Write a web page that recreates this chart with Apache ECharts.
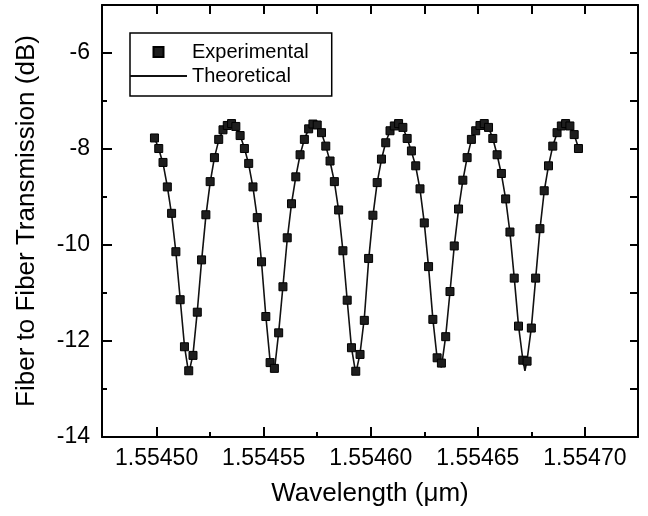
<!DOCTYPE html>
<html>
<head>
<meta charset="utf-8">
<script src="https://cdn.jsdelivr.net/npm/echarts@6/dist/echarts.min.js"></script>
<style>html,body{margin:0;padding:0;background:#fff}#c{width:648px;height:516px}</style>
</head>
<body>
<div id="c"></div>
<script>
// Experimental wavelengths (µm)
var expWavelength = [
1.554499,1.554501,1.554503,1.554505,1.554507,1.554509,1.554511,1.554513,1.554515,1.554517,
1.554519,1.554521,1.554523,1.554525,1.554527,1.554529,1.554531,1.554533,1.554535,1.554537,
1.554539,1.554541,1.554543,1.554545,1.554547,1.554549,1.554551,1.554553,1.554555,1.554557,
1.554559,1.554561,1.554563,1.554565,1.554567,1.554569,1.554571,1.554573,1.554575,1.554577,
1.554579,1.554581,1.554583,1.554585,1.554587,1.554589,1.554591,1.554593,1.554595,1.554597,
1.554599,1.554601,1.554603,1.554605,1.554607,1.554609,1.554611,1.554613,1.554615,1.554617,
1.554619,1.554621,1.554623,1.554625,1.554627,1.554629,1.554631,1.554633,1.554635,1.554637,
1.554639,1.554641,1.554643,1.554645,1.554647,1.554649,1.554651,1.554653,1.554655,1.554657,
1.554659,1.554661,1.554663,1.554665,1.554667,1.554669,1.554671,1.554673,1.554675,1.554677,
1.554679,1.554681,1.554683,1.554685,1.554687,1.554689,1.554691,1.554693,1.554695,1.554697
];
// Experimental transmission (dB)
var expTransmission = [
-7.77,-7.99,-8.28,-8.79,-9.34,-10.14,-11.14,-12.12,-12.62,-12.30,
-11.40,-10.31,-9.37,-8.68,-8.18,-7.80,-7.60,-7.51,-7.47,-7.53,
-7.72,-7.99,-8.30,-8.79,-9.43,-10.35,-11.49,-12.45,-12.57,-11.83,
-10.87,-9.85,-9.14,-8.58,-8.12,-7.80,-7.58,-7.48,-7.50,-7.66,
-7.94,-8.25,-8.68,-9.27,-10.12,-11.15,-12.14,-12.63,-12.28,-11.57,
-10.28,-9.38,-8.70,-8.21,-7.87,-7.62,-7.52,-7.47,-7.55,-7.78,
-8.04,-8.35,-8.83,-9.54,-10.45,-11.55,-12.35,-12.46,-11.91,-10.97,
-10.02,-9.25,-8.65,-8.18,-7.80,-7.62,-7.51,-7.47,-7.55,-7.78,
-8.12,-8.51,-9.04,-9.73,-10.69,-11.69,-12.40,-12.42,-11.73,-10.69,
-9.66,-8.87,-8.35,-7.94,-7.66,-7.52,-7.47,-7.52,-7.70,-7.99
];
// Theoretical curve wavelengths (µm)
var theoWavelength = [
1.554499,1.554501,1.554503,1.554505,1.554507,1.554509,1.554511,1.554513,1.554515,1.554517,
1.554519,1.554521,1.554523,1.554525,1.554527,1.554529,1.554531,1.554533,1.554535,1.554537,
1.554539,1.554541,1.554543,1.554545,1.554547,1.554549,1.554551,1.554553,1.554555,1.554557,
1.554559,1.554561,1.554563,1.554565,1.554567,1.554569,1.554571,1.554573,1.554575,1.554577,
1.554579,1.554581,1.554583,1.554585,1.554587,1.554589,1.554591,1.554593,1.554595,1.554597,
1.554599,1.554601,1.554603,1.554605,1.554607,1.554609,1.554611,1.554613,1.554615,1.554617,
1.554619,1.554621,1.554623,1.554625,1.554627,1.554629,1.554631,1.554633,1.554635,1.554637,
1.554639,1.554641,1.554643,1.554645,1.554647,1.554649,1.554651,1.554653,1.554655,1.554657,
1.554659,1.554661,1.554663,1.554665,1.554667,1.554669,1.554671,1.554672,1.554673,1.554675,1.554677,
1.554679,1.554681,1.554683,1.554685,1.554687,1.554689,1.554691,1.554693,1.554695,1.554697
];
// Theoretical transmission (dB)
var theoTransmission = [
-7.76,-8.00,-8.30,-8.78,-9.36,-10.15,-11.12,-12.10,-12.68,-12.28,
-11.38,-10.33,-9.40,-8.70,-8.18,-7.82,-7.60,-7.50,-7.48,-7.54,
-7.72,-7.98,-8.32,-8.80,-9.44,-10.36,-11.48,-12.42,-12.62,-11.82,
-10.86,-9.88,-9.14,-8.58,-8.12,-7.80,-7.58,-7.49,-7.50,-7.66,
-7.94,-8.26,-8.68,-9.28,-10.12,-11.15,-12.14,-12.68,-12.26,-11.52,
-10.32,-9.40,-8.70,-8.22,-7.86,-7.62,-7.51,-7.48,-7.55,-7.78,
-8.05,-8.36,-8.84,-9.54,-10.46,-11.54,-12.36,-12.55,-11.90,-10.98,
-10.02,-9.26,-8.66,-8.18,-7.81,-7.61,-7.50,-7.47,-7.55,-7.78,
-8.12,-8.52,-9.04,-9.74,-10.68,-11.68,-12.38,-12.62,-12.40,-11.72,-10.70,
-9.68,-8.88,-8.35,-7.94,-7.67,-7.52,-7.47,-7.52,-7.70,-7.98
];
var xMajorTicks = [1.5545, 1.55455, 1.5546, 1.55465, 1.5547];
var xMinorTicks = [1.554525, 1.554575, 1.554625, 1.554675];
var yMajorTicks = [-14, -12, -10, -8, -6];
var yMinorTicks = [-13, -11, -9, -7];
var seriesNames = ['Experimental', 'Theoretical'];
var xTitle = 'Wavelength (\u03bcm)';
var yTitle = 'Fiber to Fiber Transmission (dB)';

var FONT = '"Liberation Sans", Arial, sans-serif';
var XMIN = 1.5544745, XMAX = 1.5547248, YMIN = -14, YMAX = -5;

function pairs(xs, ys) { return xs.map(function (x, i) { return [x, ys[i]]; }); }
var axisLine = { show: true, lineStyle: { color: '#000', width: 2 } };

var chart = echarts.init(document.getElementById('c'), null, { renderer: 'canvas' });
chart.setOption({
  animation: false,
  backgroundColor: '#fff',
  grid: { left: 102, right: 10, top: 5, bottom: 79, containLabel: false },
  legend: {
    left: 130, top: 33, orient: 'vertical',
    padding: [9, 23, 10, 0], itemGap: 4,
    itemWidth: 57, itemHeight: 10,
    borderColor: '#000', borderWidth: 1.5,
    textStyle: { fontFamily: FONT, fontSize: 20, color: '#000', lineHeight: 20 },
    data: [
      { name: seriesNames[0], icon: 'path://M0,0L10,0L10,10L0,10Z' },
      { name: seriesNames[1], icon: 'path://M0,0L57,0L57,2L0,2Z' }
    ]
  },
  xAxis: [
    {
      type: 'value', min: XMIN, max: XMAX, position: 'bottom',
      name: xTitle, nameLocation: 'middle', nameGap: 44,
      nameTextStyle: { fontFamily: FONT, fontSize: 26, color: '#000' },
      axisLine: axisLine,
      axisTick: { show: true, inside: true, length: 10, lineStyle: { color: '#000', width: 2 }, customValues: xMajorTicks },
      axisLabel: { show: true, margin: 10, fontFamily: FONT, fontSize: 23, color: '#000', customValues: xMajorTicks,
        formatter: function (v) { return v.toFixed(5); } },
      splitLine: { show: false }
    },
    {
      type: 'value', min: XMIN, max: XMAX, position: 'bottom',
      axisLine: { show: false },
      axisTick: { show: true, inside: true, length: 5, lineStyle: { color: '#000', width: 2 }, customValues: xMinorTicks },
      axisLabel: { show: false }, splitLine: { show: false }
    },
    {
      type: 'value', min: XMIN, max: XMAX, position: 'top',
      axisLine: axisLine,
      axisTick: { show: true, inside: true, length: 9, lineStyle: { color: '#000', width: 2 }, customValues: xMajorTicks.concat(xMinorTicks) },
      axisLabel: { show: false }, splitLine: { show: false }
    }
  ],
  yAxis: [
    {
      type: 'value', min: YMIN, max: YMAX, position: 'left',
      name: yTitle, nameLocation: 'middle', nameGap: 62, nameRotate: 90,
      nameTextStyle: { fontFamily: FONT, fontSize: 26, color: '#000' },
      axisLine: axisLine,
      axisTick: { show: true, inside: true, length: 10, lineStyle: { color: '#000', width: 2 }, customValues: yMajorTicks },
      axisLabel: { show: true, margin: 12, fontFamily: FONT, fontSize: 23, color: '#000', customValues: yMajorTicks },
      splitLine: { show: false }
    },
    {
      type: 'value', min: YMIN, max: YMAX, position: 'left',
      axisLine: { show: false },
      axisTick: { show: true, inside: true, length: 5, lineStyle: { color: '#000', width: 2 }, customValues: yMinorTicks },
      axisLabel: { show: false }, splitLine: { show: false }
    },
    {
      type: 'value', min: YMIN, max: YMAX, position: 'right',
      axisLine: axisLine,
      axisTick: { show: true, inside: true, length: 8, lineStyle: { color: '#000', width: 2 }, customValues: yMajorTicks.concat(yMinorTicks) },
      axisLabel: { show: false }, splitLine: { show: false }
    }
  ],
  series: [
    {
      name: seriesNames[1], type: 'line', xAxisIndex: 0, yAxisIndex: 0,
      data: pairs(theoWavelength, theoTransmission),
      symbol: 'none', showSymbol: false, smooth: false, z: 2,
      lineStyle: { color: '#111', width: 1.6 },
      itemStyle: { color: '#111' }
    },
    {
      name: seriesNames[0], type: 'scatter', xAxisIndex: 0, yAxisIndex: 0,
      data: pairs(expWavelength, expTransmission),
      symbol: 'rect', symbolSize: 8, z: 3,
      itemStyle: { color: '#1e1e1e', borderColor: '#000', borderWidth: 1, opacity: 1 }
    }
  ]
});
</script>
</body>
</html>
